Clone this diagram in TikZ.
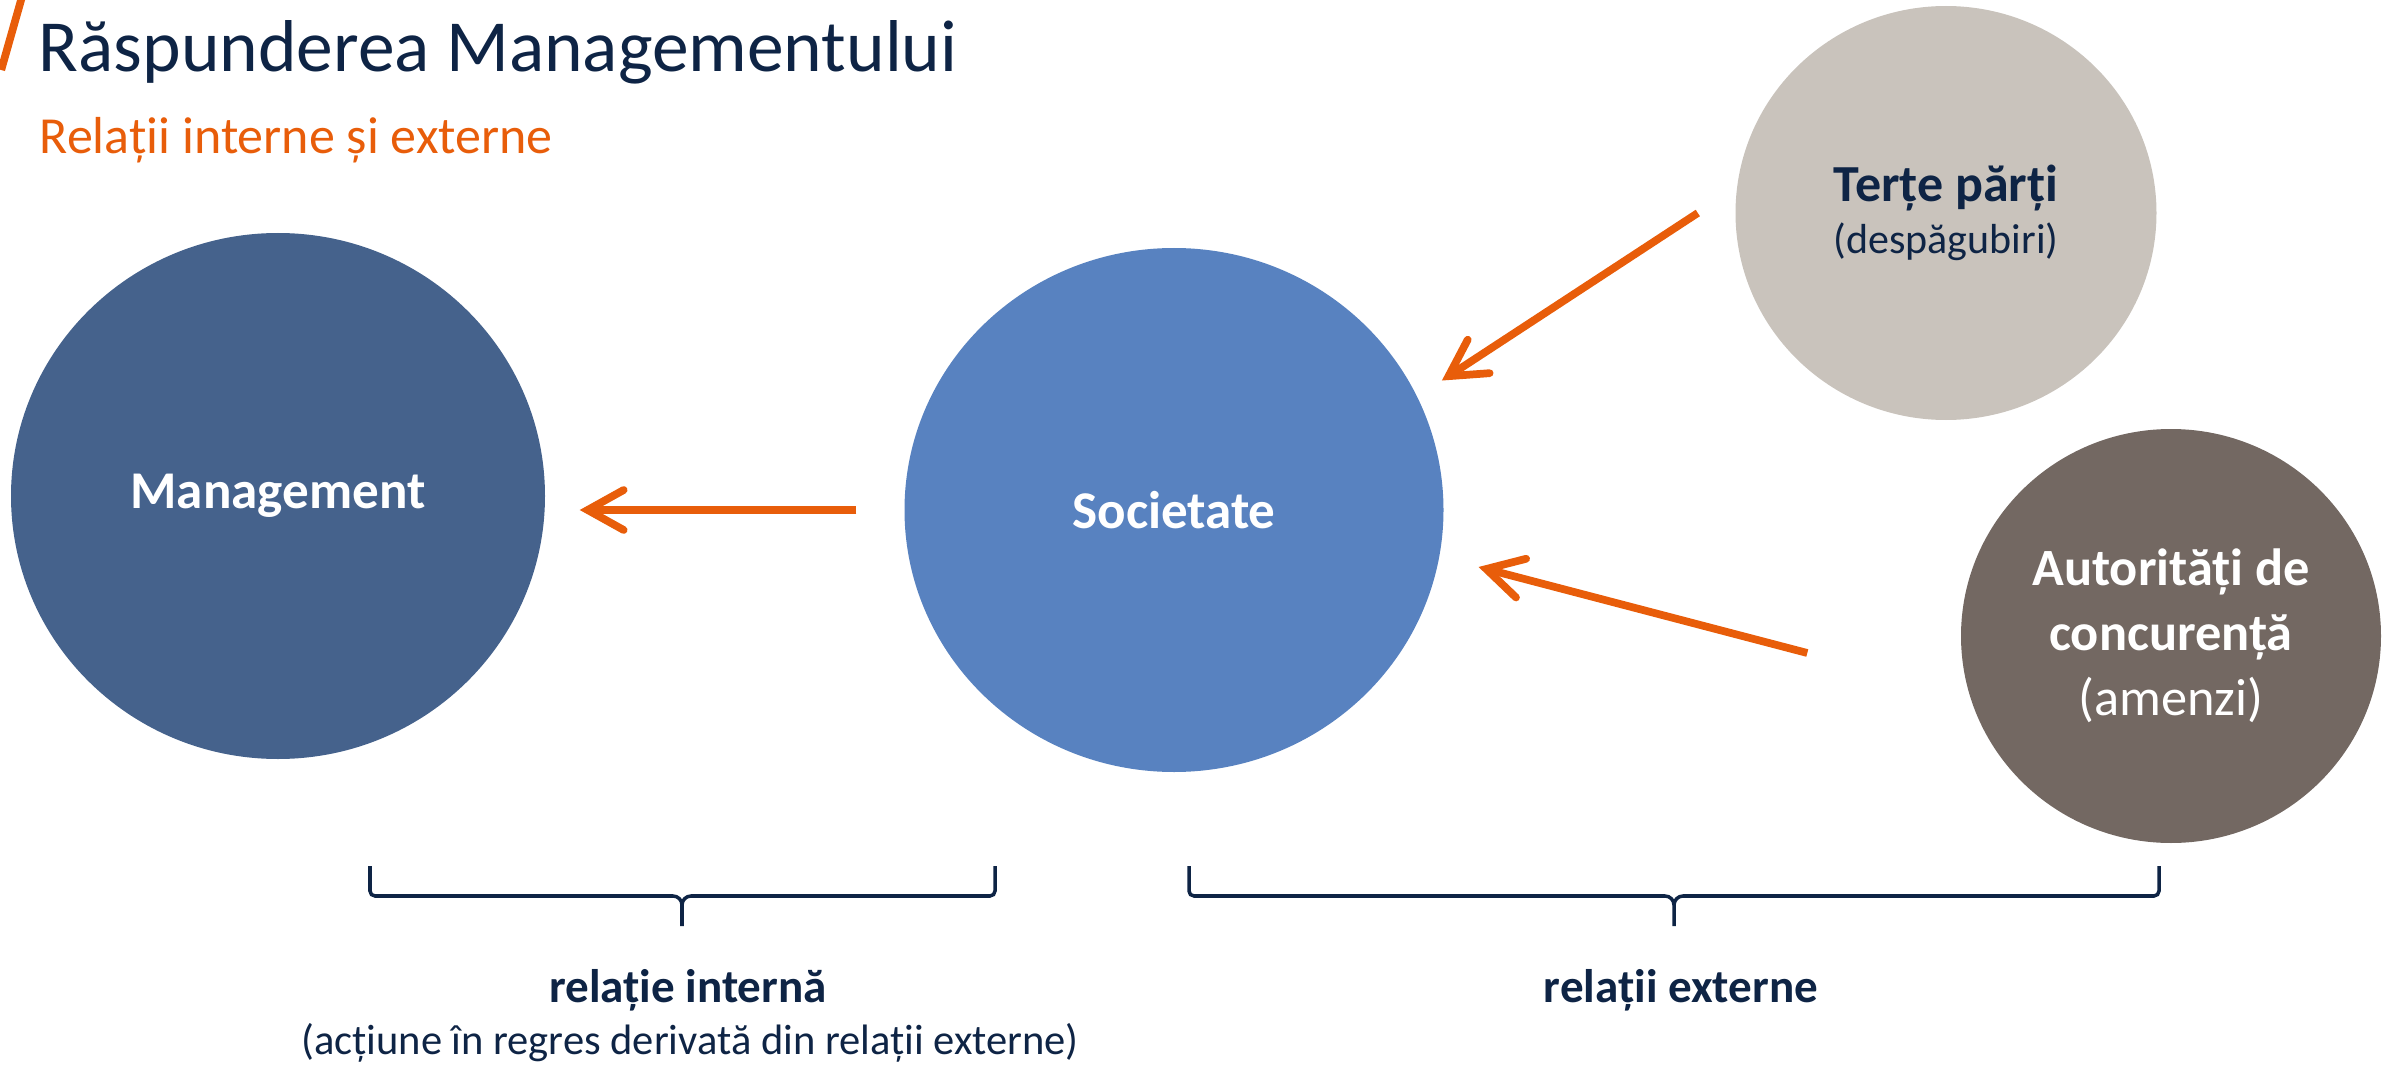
\documentclass[tikz,border=0pt]{standalone}
\usepackage{fontspec}
\setmainfont{Carlito}
\usepackage{tikz}
\usetikzlibrary{shapes.geometric,arrows.meta}

\definecolor{navy}{HTML}{0E2445}
\definecolor{orangeline}{HTML}{E85D0A}
\definecolor{mgmtblue}{HTML}{45628C}
\definecolor{socblue}{HTML}{5882C0}
\definecolor{greige}{HTML}{C9C3BC}
\definecolor{taupe}{HTML}{736862}

% x1, xm, x2
\newcommand{\curlybrace}[3]{%
  \draw[bracket] (#1,2.01) -- (#1,1.76) to[out=-90,in=180] (#1+0.05,1.71) -- (#2-0.09,1.71) to[out=0,in=90] (#2,1.62) -- (#2,1.41)
    (#2,1.62) to[out=90,in=180] (#2+0.09,1.71) -- (#3-0.05,1.71) to[out=0,in=-90] (#3,1.76) -- (#3,2.01);}

\begin{document}
\begin{tikzpicture}[
    bubble/.style={ellipse, inner sep=0pt, align=center, text=white},
    arrow/.style={-{Straight Barb[length=0.36cm,width=0.40cm,line cap=round]}, line width=2.2pt, draw=orangeline},
    bracket/.style={draw=navy, line width=1pt}
]
    \useasboundingbox (0,0) rectangle (23.92,10.67);

    % title
    \draw[orangeline, line width=2.2pt] (0.012,9.97) -- (0.225,10.72);
    \node[anchor=base west, inner sep=0pt, text=navy, font=\fontsize{20.9}{24}\selectfont] (title) at (0.38,9.95) {Răspunderea Managementului};
    \node[anchor=base west, inner sep=0pt, text=orangeline, font=\fontsize{14.8}{17}\selectfont] (subtitle) at (0.39,9.13) {Relații interne și externe};

    % circles
    \node[bubble, fill=mgmtblue, minimum width=5.34cm, minimum height=5.26cm, font=\fontsize{15.1}{18}\selectfont\bfseries] (mgmt) at (2.78,5.71) {Management};
    \node[bubble, fill=socblue, minimum width=5.39cm, minimum height=5.24cm, font=\fontsize{15.1}{18}\selectfont\bfseries] (soc) at (11.74,5.57) {Societate};
    \node[bubble, fill=greige, text=navy, minimum width=4.21cm, minimum height=4.14cm, font=\fontsize{14.8}{14.8}\selectfont] (terte) at (19.46,8.54) {\textbf{Terțe părți}\\{\fontsize{11.95}{14.8}\selectfont(despăgubiri)}};
    \node[bubble, fill=taupe, minimum width=4.20cm, minimum height=4.14cm, font=\fontsize{14.9}{18.5}\selectfont] (autor) at (21.71,4.31) {\textbf{Autorități de}\\\textbf{concurență}\\(amenzi)};

    % arrows
    \draw[arrow, shorten <=0.475cm, shorten >=0.34cm] (soc.west) -- (soc.west -| mgmt.east);
    \coordinate (tstart) at ([xshift=-0.37cm]terte.west);
    \draw[arrow, shorten >=0.29cm] (tstart) -- (soc.25);
    \coordinate (astart) at ([xshift=-1.53cm,yshift=-0.17cm]autor.west);
    \draw[arrow, shorten >=0.40cm] (astart) -- (soc.-10);

    % braces
    \curlybrace{3.70}{6.82}{9.95}
    \curlybrace{11.89}{16.74}{21.59}
    \node[anchor=base, text=navy, font=\fontsize{13.4}{16}\selectfont\bfseries] (intern) at (6.88,0.65) {relație internă};
    \node[anchor=base, text=navy, font=\fontsize{12.1}{14}\selectfont] (regres) at (6.90,0.13) {(acțiune în regres derivată din relații externe)};
    \node[anchor=base, text=navy, font=\fontsize{13.4}{16}\selectfont\bfseries] (extern) at (16.81,0.65) {relații externe};
\end{tikzpicture}
\end{document}
